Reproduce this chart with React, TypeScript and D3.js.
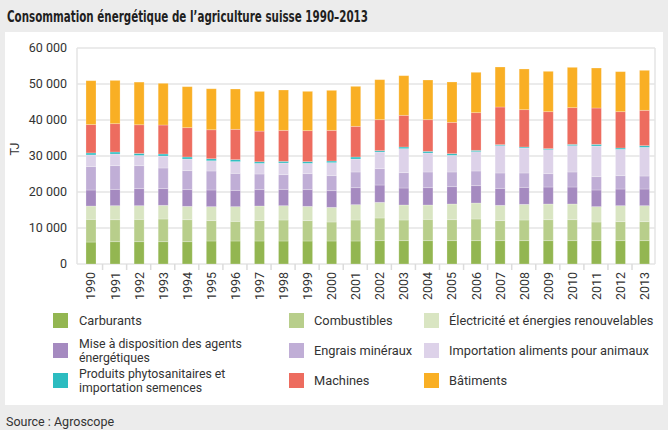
import React from "react";
import * as d3 from "d3";

const years = ["1990","1991","1992","1993","1994","1995","1996","1997","1998","1999","2000","2001","2002","2003","2004","2005","2006","2007","2008","2009","2010","2011","2012","2013"];

const carburants = [6100,6200,6200,6200,6200,6390,6390,6390,6390,6390,6390,6390,6480,6480,6480,6480,6480,6480,6480,6480,6480,6480,6480,6480];
const combustibles = [6300,6100,6200,6300,6110,5650,5460,5650,5830,5650,5280,5830,6300,5740,5930,5830,6020,5560,5740,5830,5830,5190,5280,5280];
const electricite = [3700,3900,3800,3800,3710,3890,4080,4070,3980,3980,4070,4260,4350,4170,3980,4360,4440,4260,4350,4360,4360,4260,4440,4440];
const miseADisposition = [4450,4540,4730,4630,4630,4630,4530,4540,4540,4630,4630,4720,4810,4720,4810,4810,4820,4720,4730,4720,4720,4630,4630,4630];
const engrais = [6500,6570,6380,5740,5280,5270,4730,4350,4070,4440,4170,4360,4540,4260,4360,4080,4070,4260,3980,3700,4170,3700,3710,3610];
const importation = [3250,3250,2850,3330,3240,2850,3240,2940,3250,2870,3610,3610,4630,6670,5270,4630,5370,7590,6940,6670,7310,8520,7310,7970];
const phyto = [550,550,560,560,550,560,550,460,460,470,460,550,370,460,470,460,370,280,280,280,370,460,370,460];
const machines = [7870,7870,7960,8050,8150,8050,8430,8520,8610,8610,8520,8520,8610,8800,8790,8700,10470,10460,10370,10270,10190,10090,10090,9820];
const batiments = [12200,12020,11850,11580,11390,11390,11200,11020,11200,10920,11110,11110,11110,11010,11020,11210,11210,11110,11300,11210,11200,11110,11120,11110];

const yTicks = [0, 10000, 20000, 30000, 40000, 50000, 60000];

const seriesKeys = ["carb","comb","elec","mise","engr","imp","phyto","mach","bat"];
const seriesLabels = [
  ["Carburants"],
  ["Combustibles"],
  ["Électricité et énergies renouvelables"],
  ["Mise à disposition des agents", "énergétiques"],
  ["Engrais minéraux"],
  ["Importation aliments pour animaux"],
  ["Produits phytosanitaires et", "importation semences"],
  ["Machines"],
  ["Bâtiments"],
];
const seriesColors = ["#93b651","#b8ce8b","#d9e5c2","#a58ac0","#c0aed6","#ddd2e9","#2cbcc0","#ed6c5f","#f9af24"];
const seriesValues = [carburants, combustibles, electricite, miseADisposition, engrais, importation, phyto, machines, batiments];

const FONT = "Roboto, 'Open Sans', sans-serif";

export default function App() {
  const W = 668, H = 430;
  const plotL = 77, plotR = 655, plotT = 48, plotB = 264;

  const x = d3.scaleBand<string>().domain(years).range([79, 656.5]).paddingInner(0.584).paddingOuter(0.29);
  const y = d3.scaleLinear().domain([0, 60000]).range([plotB, plotT]);

  const rows = years.map((yr, i) => {
    const o: any = { year: yr };
    seriesKeys.forEach((k, j) => (o[k] = seriesValues[j][i]));
    return o;
  });
  const stacked = d3.stack<any>().keys(seriesKeys)(rows);
  const fmt = (v: number) => d3.format(",")(v).replace(/,/g, " ");

  const step = x.step();
  const bandStart = x.range()[0];

  const legendCols = [{ sw: 53, tx: 79 }, { sw: 289, tx: 314 }, { sw: 424, tx: 449 }];
  const legendRows = [320.5, 350.5, 380.5];

  return (
    <svg width={W} height={H} style={{ display: "block", position: "absolute", left: 0, top: 0 }} fontFamily={FONT}>
      <rect x={0} y={0} width={W} height={H} fill="#ececec" />
      <text x={7} y={22} fontFamily="'Liberation Sans Narrow', 'DejaVu Sans Condensed', sans-serif" fontWeight="bold" fontSize={16.5} fill="#1f1f1f" textLength={361} lengthAdjust="spacingAndGlyphs">
        Consommation énergétique de l’agriculture suisse 1990–2013
      </text>
      <rect x={5} y={32} width={658} height={373} fill="#ffffff" />

      {/* gridlines */}
      {yTicks.map((t) => (
        <line key={"g" + t} x1={plotL} x2={plotR} y1={y(t)} y2={y(t)} stroke="#e4e4e4" strokeWidth={1.5} />
      ))}
      <line x1={plotL} x2={plotL} y1={plotT} y2={plotB} stroke="#e4e4e4" strokeWidth={1.5} />
      <line x1={plotR} x2={plotR} y1={plotT} y2={plotB} stroke="#e4e4e4" strokeWidth={1.5} />

      {/* y tick labels */}
      {yTicks.map((t) => (
        <text key={"yl" + t} x={67} y={y(t)} dy="0.35em" textAnchor="end" fontSize={12.5} fill="#333">
          {fmt(t)}
        </text>
      ))}
      <text transform={`translate(14,${(plotT + plotB) / 2 - 7}) rotate(-90)`} textAnchor="middle" dominantBaseline="central" fontSize={12.5} fill="#333">
        TJ
      </text>

      {/* x ticks */}
      {years.slice(0, years.length - 1).map((yr, i) => (
        <line key={"xt" + yr} x1={bandStart + step * (i + 1) - 0.5} x2={bandStart + step * (i + 1) - 0.5} y1={plotB} y2={plotB + 6} stroke="#dcdcdc" strokeWidth={1.5} />
      ))}

      {/* bars */}
      {stacked.map((s, j) =>
        s.map((d, i) => (
          <rect
            key={seriesKeys[j] + i}
            x={x(years[i])}
            y={y(d[1])}
            width={x.bandwidth()}
            height={Math.max(0, y(d[0]) - y(d[1]))}
            fill={seriesColors[j]}
            stroke="#ffffff"
            strokeOpacity={0.3}
            strokeWidth={0.8}
          />
        ))
      )}

      {/* x labels */}
      {years.map((yr) => (
        <text key={"xl" + yr} transform={`translate(${(x(yr) as number) + x.bandwidth() / 2},272) rotate(-90)`} textAnchor="end" dominantBaseline="central" fontSize={12.5} fill="#333">
          {yr}
        </text>
      ))}

      {/* legend */}
      {seriesLabels.map((lines, idx) => {
        const col = legendCols[idx % 3];
        const cy = legendRows[Math.floor(idx / 3)];
        return (
          <g key={"lg" + idx}>
            <rect x={col.sw} y={cy - 7.5} width={15} height={15} fill={seriesColors[idx]} />
            {lines.length === 1 ? (
              <text x={col.tx} y={cy} dy="0.35em" fontSize={12.8} fill="#333">{lines[0]}</text>
            ) : (
              lines.map((l, k) => (
                <text key={k} x={col.tx} y={cy + (k === 0 ? -7 : 7)} dy="0.35em" fontSize={12.3} fill="#333">{l}</text>
              ))
            )}
          </g>
        );
      })}

      <text x={6} y={426} fontSize={12.5} fill="#333">Source : Agroscope</text>
    </svg>
  );
}
